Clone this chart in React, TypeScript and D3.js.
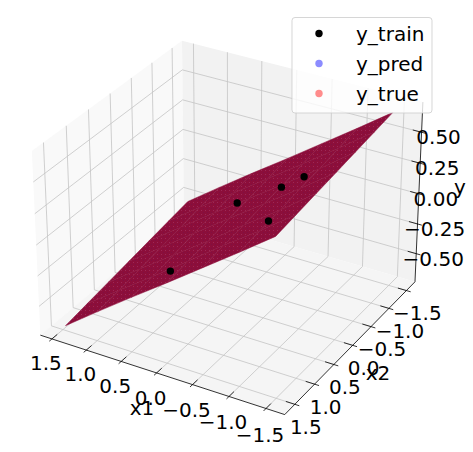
import * as d3 from "d3";
import React from "react";

const x1Ticks = [1.5, 1.0, 0.5, 0.0, -0.5, -1.0, -1.5];
const x2Ticks = [1.5, 1.0, 0.5, 0.0, -0.5, -1.0, -1.5];
const zTicks = [0.5, 0.25, 0.0, -0.25, -0.5];

// surface sampling positions and heights: rows follow surfaceX1, columns follow x2Ticks
const surfaceX1 = [1.46, 0.98, 0.49, -0.01, -0.5, -0.99, -1.47];
const surfaceZ = [
  [-0.7, -0.67, -0.64, -0.61, -0.58, -0.55, -0.52],
  [-0.495, -0.47, -0.44, -0.41, -0.38, -0.35, -0.32],
  [-0.29, -0.27, -0.24, -0.205, -0.18, -0.15, -0.12],
  [-0.085, -0.06, -0.04, 0.0, 0.02, 0.05, 0.08],
  [0.12, 0.15, 0.17, 0.2, 0.22, 0.25, 0.28],
  [0.325, 0.35, 0.37, 0.4, 0.42, 0.45, 0.48],
  [0.53, 0.555, 0.58, 0.605, 0.63, 0.655, 0.68],
];

const trainX1 = [0.25, 0.243, -0.44, -0.76, -0.91];
const trainX2 = [0.98, -0.66, -0.555, -0.54, 0.64];
const trainY = [-0.19, -0.1, 0.17, 0.31, 0.31];

const legendNames = ["y_train", "y_pred", "y_true"];
const legendFills = ["#000000", "#8c8cff", "#ff8c8c"];

const W = 473;
const H = 452;
const S = 245;
const CX = 231;
const CY = 219;
const DIST = 10;
const BX = 1.143;
const BZ = 0.857;
const X1HI = 1.67;
const X1LO = -1.75;
const LIM = 1.75;
const ZLIM = 0.74;

const wx = d3.scaleLinear().domain([X1HI, X1LO]).range([-BX / 2, BX / 2]);
const wy = d3.scaleLinear().domain([LIM, -LIM]).range([-BX / 2, BX / 2]);
const wz = d3.scaleLinear().domain([-ZLIM, ZLIM]).range([-BZ / 2, BZ / 2]);

const el = (30 * Math.PI) / 180;
const az = (-60 * Math.PI) / 180;
const eye = [Math.cos(el) * Math.cos(az), Math.cos(el) * Math.sin(az), Math.sin(el)];
const right = [-Math.sin(az), Math.cos(az), 0];
const up = [-Math.sin(el) * Math.cos(az), -Math.sin(el) * Math.sin(az), Math.cos(el)];
const dot = (a: number[], b: number[]) => a[0] * b[0] + a[1] * b[1] + a[2] * b[2];

type P = [number, number];
function proj(x1: number, x2: number, z: number): P {
  const p = [wx(x1), wy(x2), wz(z)];
  const f = DIST / (DIST - dot(eye, p));
  return [CX + S * f * dot(right, p), CY - S * f * dot(up, p)];
}
const line = d3.line<P>();
const seg = (pts: [number, number, number][]) => line(pts.map((p) => proj(p[0], p[1], p[2])))!;
const poly = (pts: [number, number, number][]) => seg(pts) + "Z";

const font = "'DejaVu Sans', sans-serif";
const GRID = "#c4c4c4";

export default function App() {
  const cells: string[] = [];
  for (let i = 0; i < surfaceX1.length - 1; i++) {
    for (let j = 0; j < x2Ticks.length - 1; j++) {
      cells.push(
        poly([
          [surfaceX1[i], x2Ticks[j], surfaceZ[i][j]],
          [surfaceX1[i + 1], x2Ticks[j], surfaceZ[i + 1][j]],
          [surfaceX1[i + 1], x2Ticks[j + 1], surfaceZ[i + 1][j + 1]],
          [surfaceX1[i], x2Ticks[j + 1], surfaceZ[i][j + 1]],
        ])
      );
    }
  }
  const fmt1 = (v: number) => (v < 0 ? "\u2212" : "") + Math.abs(v).toFixed(1);
  const fmt2 = (v: number) => (v < 0 ? "\u2212" : "") + Math.abs(v).toFixed(2);
  return (
    <svg
      width={W}
      height={H}
      viewBox={`0 0 ${W} ${H}`}
      style={{ position: "absolute", left: 0, top: 0, display: "block" }}
      fontFamily={font}
    >
      <defs>
        <pattern id="mesh" width="4" height="4" patternUnits="userSpaceOnUse">
          <rect width="4" height="4" fill="#8c0e3a" />
          <rect x="1" y="2" width="1" height="1" fill="#a8386a" opacity="0.6" />
          <rect x="3" y="0" width="1" height="1" fill="#7a1048" opacity="0.7" />
        </pattern>
      </defs>
      <rect width={W} height={H} fill="#fff" />
      <path d={poly([[X1HI, LIM, -ZLIM], [X1HI, -LIM, -ZLIM], [X1HI, -LIM, ZLIM], [X1HI, LIM, ZLIM]])} fill="#f9f9f9" />
      <path d={poly([[X1HI, -LIM, -ZLIM], [X1LO, -LIM, -ZLIM], [X1LO, -LIM, ZLIM], [X1HI, -LIM, ZLIM]])} fill="#f2f2f2" />
      <path d={poly([[X1HI, LIM, -ZLIM], [X1LO, LIM, -ZLIM], [X1LO, -LIM, -ZLIM], [X1HI, -LIM, -ZLIM]])} fill="#f5f5f5" />
      <g fill="none" stroke={GRID} strokeWidth={0.8}>
        {x1Ticks.map((t) => (
          <path key={"gx" + t} d={seg([[t, LIM, -ZLIM], [t, -LIM, -ZLIM], [t, -LIM, ZLIM]])} />
        ))}
        {x2Ticks.map((t) => (
          <path key={"gy" + t} d={seg([[X1LO, t, -ZLIM], [X1HI, t, -ZLIM], [X1HI, t, ZLIM]])} />
        ))}
        {zTicks.map((t) => (
          <path key={"gz" + t} d={seg([[X1HI, LIM, t], [X1HI, -LIM, t], [X1LO, -LIM, t]])} />
        ))}
      </g>
      <g fill="none" stroke="#000" strokeWidth={0.8}>
        <path d={seg([[X1HI, LIM, -ZLIM], [X1LO, LIM, -ZLIM]])} />
        <path d={seg([[X1LO, LIM, -ZLIM], [X1LO, -LIM, -ZLIM]])} />
        <path d={seg([[X1LO, -LIM, -ZLIM], [X1LO, -LIM, ZLIM]])} />
        {x1Ticks.map((t) => (
          <path key={"tx" + t} d={seg([[t, LIM - 0.12, -ZLIM], [t, LIM + 0.06, -ZLIM]])} />
        ))}
        {x2Ticks.map((t) => (
          <path key={"ty" + t} d={seg([[X1LO + 0.12, t, -ZLIM], [X1LO - 0.06, t, -ZLIM]])} />
        ))}
        {zTicks.map((t) => (
          <path key={"tz" + t} d={seg([[X1LO + 0.12, -LIM, t], [X1LO - 0.06, -LIM, t]])} />
        ))}
      </g>
      {cells.map((d, i) => (
        <path key={i} d={d} fill="url(#mesh)" stroke="#8c0e3a" strokeWidth={0.5} />
      ))}
      {trainX1.map((v, i) => {
        const [px, py] = proj(v, trainX2[i], trainY[i]);
        return <circle key={i} cx={px} cy={py} r={3.7} fill="#000" />;
      })}
      <g fontSize={20} fill="#000" textAnchor="middle" dominantBaseline="central">
        {x1Ticks.map((t) => {
          const [px, py] = proj(t, LIM, -ZLIM);
          return <text key={"lx" + t} x={px - 6} y={py + 24 + (1.5 - t) * 0.8}>{fmt1(t)}</text>;
        })}
        {x2Ticks.map((t) => {
          const [px, py] = proj(X1LO, t, -ZLIM);
          return <text key={"ly" + t} x={px + 11} y={py + 22.5}>{fmt1(t)}</text>;
        })}
        {zTicks.map((t) => {
          const [px, py] = proj(X1LO, -LIM, t);
          return <text key={"lz" + t} x={px + 17} y={py + 5}>{fmt2(t)}</text>;
        })}
        <text x={142} y={408}>x1</text>
        <text x={378} y={373}>x2</text>
        <text x={460} y={187}>y</text>
      </g>
      <rect x={292} y={17.5} width={140} height={95.5} rx={3} fill="#fff" fillOpacity={0.8} stroke="#cccccc" strokeOpacity={0.8} strokeWidth={1} />
      {legendNames.map((n, i) => (
        <g key={n}>
          <circle cx={319} cy={33.5 + i * 30} r={3.7} fill={legendFills[i]} />
          <text x={356} y={33.5 + i * 30} fontSize={20} dominantBaseline="central" fill="#000">{n}</text>
        </g>
      ))}
    </svg>
  );
}
